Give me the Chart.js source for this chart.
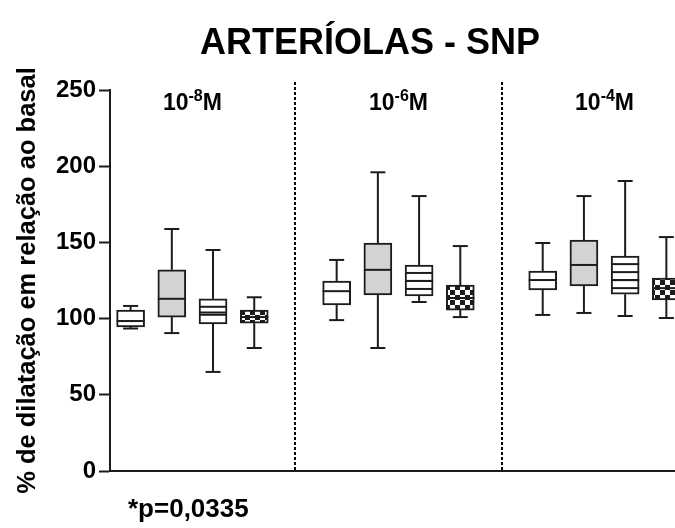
<!DOCTYPE html>
<html>
<head>
<meta charset="utf-8">
<script src="https://cdn.jsdelivr.net/npm/chart.js@4.4.1/dist/chart.umd.min.js"></script>
<style>
  html, body { margin: 0; padding: 0; background: #fff; overflow: hidden; }
  #wrap { width: 675px; height: 528px; }
</style>
</head>
<body>
<div id="wrap"><canvas id="chart" width="675" height="528"></canvas></div>
<script>
// Concentration groups (10^x M) and the y axis ticks.
const groupExponents = ['-8', '-6', '-4'];
const yTicks = [0, 50, 100, 150, 200, 250];

// Box statistics per group: [min, q1, median, q3, max]
const plainStats   = [[93.5, 94.5, 98.4, 105.6, 108.3], [99, 108.9, 118, 124.7, 138.5], [102.4, 118.8, 125.3, 131.2, 149.6]];
const grayStats    = [[90.5, 101, 113, 132, 158.8], [80.7, 115.5, 132, 149.6, 196], [103.7, 121.4, 135.2, 151.6, 180.4]];
const stripedStats = [[65, 96.5, 104, 113, 145], [110.9, 114.8, 124.7, 135.2, 180.4], [101.7, 116, 125.3, 141, 190.3]];
const checkedStats = [[80.7, 97, 101, 105.6, 114], [101, 105.6, 113.5, 122, 147.6], [100.4, 112.2, 120, 126.6, 153.5]];
const titleText = 'ARTERÍOLAS - SNP';
const pValueText = '*p=0,0335';

const ink = '#1c1c1c';
const fontFamily = '"Liberation Sans", Arial, Helvetica, sans-serif';

// Checkerboard fill for the last box of each group.
function makeChecker(size) {
    const c = document.createElement('canvas');
    c.width = size * 2;
    c.height = size * 2;
    const g = c.getContext('2d');
    g.fillStyle = '#fff';
    g.fillRect(0, 0, c.width, c.height);
    g.fillStyle = ink;
    g.fillRect(0, 0, size, size);
    g.fillRect(size, size, size, size);
    return g.createPattern(c, 'repeat');
}

// Each group has four boxes followed by one empty slot.
function toBars(stats, slot) {
    return stats.map((s, g) => ({ x: g * 5 + slot, y: [s[1], s[3]], stats: s }));
}

const series = [
    { stats: plainStats, fill: '#ffffff' },
    { stats: grayStats, fill: '#d3d3d3' },
    { stats: stripedStats, fill: '#ffffff', stripes: true },
    { stats: checkedStats, fill: makeChecker(5) }
];

const datasets = series.map((s, k) => ({
    data: toBars(s.stats, k),
    backgroundColor: s.fill,
    borderColor: ink,
    borderWidth: 2,
    borderSkipped: false,
    barThickness: 28,
    grouped: false,
    stripes: !!s.stripes
}));

function line(ctx, x1, y1, x2, y2) {
    ctx.beginPath();
    ctx.moveTo(x1, y1);
    ctx.lineTo(x2, y2);
    ctx.stroke();
}

// Whiskers, medians and stripes on top of the floating bars.
const boxDetails = {
    id: 'boxDetails',
    afterDatasetsDraw(chart) {
        const { ctx, chartArea, scales: { y } } = chart;
        ctx.save();
        ctx.beginPath();
        ctx.rect(chartArea.left, chartArea.top - 20, chartArea.width, chartArea.height + 20);
        ctx.clip();
        ctx.strokeStyle = ink;
        ctx.lineWidth = 2;
        chart.data.datasets.forEach((ds, di) => {
            const meta = chart.getDatasetMeta(di);
            meta.data.forEach((bar, i) => {
                const [mn, q1, med, q3, mx] = ds.data[i].stats;
                const cx = bar.x;
                const half = bar.width / 2;
                const capHalf = 7.5;
                const yTop = y.getPixelForValue(q3);
                const yBot = y.getPixelForValue(q1);
                if (ds.stripes) {
                    for (let yy = yTop + 8; yy < yBot - 3; yy += 8) {
                        line(ctx, cx - half, yy, cx + half, yy);
                    }
                }
                const yMed = y.getPixelForValue(med);
                line(ctx, cx - half, yMed, cx + half, yMed);
                const yMax = y.getPixelForValue(mx);
                const yMin = y.getPixelForValue(mn);
                line(ctx, cx, yTop, cx, yMax);
                line(ctx, cx - capHalf, yMax, cx + capHalf, yMax);
                line(ctx, cx, yBot, cx, yMin);
                line(ctx, cx - capHalf, yMin, cx + capHalf, yMin);
            });
        });
        ctx.restore();
    }
};

// Title, dotted group separators, concentration labels and the p value.
const groupDecor = {
    id: 'groupDecor',
    afterDraw(chart) {
        const { ctx, chartArea, scales: { x } } = chart;
        ctx.save();
        ctx.fillStyle = '#000';
        ctx.textBaseline = 'alphabetic';
        ctx.textAlign = 'center';
        ctx.font = 'bold 36px ' + fontFamily;
        ctx.fillText(titleText, 370, 54);

        ctx.strokeStyle = '#000';
        ctx.lineWidth = 2;
        ctx.setLineDash([3, 2]);
        for (let g = 1; g < groupExponents.length; g++) {
            const px = Math.round(x.getPixelForValue(g * 5 - 1));
            line(ctx, px, chartArea.top - 8, px, chartArea.bottom);
        }
        ctx.setLineDash([]);

        ctx.textAlign = 'left';
        const baseFont = 'bold 23px ' + fontFamily;
        const supFont = 'bold 16px ' + fontFamily;
        const baseY = chartArea.top + 20;
        groupExponents.forEach((exp, g) => {
            const cx = x.getPixelForValue(g * 5 + 1.5);
            ctx.font = baseFont;
            const w10 = ctx.measureText('10').width;
            const wM = ctx.measureText('M').width;
            ctx.font = supFont;
            const wSup = ctx.measureText(exp).width;
            let left = cx - (w10 + wSup + wM) / 2;
            ctx.font = baseFont;
            ctx.fillText('10', left, baseY);
            left += w10;
            ctx.font = supFont;
            ctx.fillText(exp, left, baseY - 9);
            left += wSup;
            ctx.font = baseFont;
            ctx.fillText('M', left, baseY);
        });

        ctx.font = 'bold 26px ' + fontFamily;
        ctx.fillText(pValueText, chartArea.left + 18, chartArea.bottom + 46);
        ctx.restore();
    }
};

new Chart(document.getElementById('chart'), {
    type: 'bar',
    data: { datasets: datasets },
    options: {
        responsive: false,
        animation: false,
        devicePixelRatio: 1,
        layout: { padding: { left: 0, right: 0, top: 90, bottom: 57 } },
        plugins: {
            legend: { display: false },
            tooltip: { enabled: false },
            title: { display: false }
        },
        scales: {
            x: {
                type: 'linear',
                offset: false,
                min: -0.5,
                max: 13.21,
                ticks: { display: false },
                grid: { display: false },
                border: { display: true, color: ink, width: 2 },
                afterFit(scale) { scale.height = 0; }
            },
            y: {
                min: yTicks[0],
                max: yTicks[yTicks.length - 1],
                ticks: {
                    stepSize: yTicks[1] - yTicks[0],
                    color: '#000',
                    padding: 3,
                    font: { family: fontFamily, size: 24, weight: 'bold' }
                },
                grid: { drawOnChartArea: false, tickLength: 11, tickWidth: 2, tickColor: ink },
                border: { display: true, color: ink, width: 2 },
                title: {
                    display: true,
                    text: '% de dilatação em relação ao basal',
                    color: '#000',
                    font: { family: fontFamily, size: 25.5, weight: 'bold' },
                    padding: { top: 13, bottom: 0 }
                },
                afterFit(scale) { scale.width = 110; }
            }
        }
    },
    plugins: [boxDetails, groupDecor]
});
</script>
</body>
</html>
